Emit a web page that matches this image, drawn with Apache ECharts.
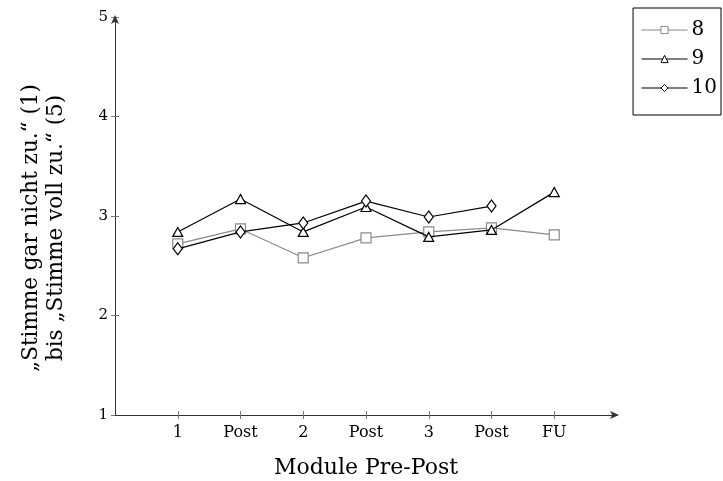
<!DOCTYPE html>
<html>
<head>
<meta charset="utf-8">
<script src="https://cdn.jsdelivr.net/npm/echarts@6/dist/echarts.min.js"></script>
<style>
  html, body { margin: 0; padding: 0; background: #fff; }
  #chart { width: 723px; height: 481px; }
</style>
</head>
<body>
<div id="chart"></div>
<script>
// Module positions along the x axis and their labels
const positions = [1, 2, 3, 4, 5, 6, 7];
const tickLabels = ['1', 'Post', '2', 'Post', '3', 'Post', 'FU'];

// Mean ratings per group (null = no measurement)
const seriesNames = ['8', '9', '10'];
const values8  = [2.72, 2.87, 2.58, 2.78, 2.84, 2.88, 2.81];
const values9  = [2.84, 3.17, 2.84, 3.09, 2.79, 2.86, 3.24];
const values10 = [2.67, 2.84, 2.93, 3.15, 2.99, 3.10, null];

const yTicks = [1, 2, 3, 4, 5];

const FONT = 'DejaVu Serif';

function pairs(vals) {
  return positions.map((p, i) => [p, vals[i]]);
}

const chart = echarts.init(document.getElementById('chart'));

const xBase = {
  type: 'value', min: 0, max: 8, interval: 1,
  gridIndex: 0, position: 'bottom',
  splitLine: { show: false }
};
const yBase = {
  type: 'value', min: 1, max: 5, interval: 1,
  gridIndex: 0, position: 'left',
  splitLine: { show: false }
};

chart.setOption({
  animation: false,
  backgroundColor: '#fff',
  textStyle: { fontFamily: FONT },
  grid: { left: 115, top: 17, width: 502, height: 398, containLabel: false, outerBoundsMode: 'none' },
  legend: {
    orient: 'vertical',
    right: 2, top: 8,
    padding: [12, 4, 17, 8],
    itemGap: 9,
    itemWidth: 46, itemHeight: 9,
    borderColor: '#000', borderWidth: 1, borderRadius: 0,
    backgroundColor: '#fff',
    lineStyle: { width: 1 },
    itemStyle: { borderWidth: 1 },
    textStyle: { fontFamily: FONT, fontSize: 20, lineHeight: 20, color: '#000', padding: [0, 0, 0, -1] },
    data: seriesNames
  },
  xAxis: [
    Object.assign({}, xBase, {
      name: 'Module Pre-Post',
      nameLocation: 'middle', nameGap: 42,
      nameTextStyle: { fontFamily: FONT, fontSize: 22, color: '#000' },
      axisLine: { show: true, lineStyle: { color: '#333', width: 1 }, symbol: ['none', 'arrow'], symbolSize: [6, 9], symbolOffset: [0, 2] },
      axisTick: { show: true, length: 4, lineStyle: { color: '#777' }, customValues: positions },
      axisLabel: {
        show: true, margin: 10, fontFamily: FONT, fontSize: 16, color: '#000',
        customValues: positions,
        formatter: v => tickLabels[positions.indexOf(v)] || ''
      }
    }),
    Object.assign({}, xBase, {
      axisLine: { show: false },
      axisTick: { show: true, inside: true, length: 4, lineStyle: { color: '#777' }, customValues: positions },
      axisLabel: { show: false }
    })
  ],
  yAxis: [
    Object.assign({}, yBase, {
      name: '„Stimme gar nicht zu.“ (1)\nbis „Stimme voll zu.“ (5)',
      nameLocation: 'middle', nameGap: 46, nameRotate: 90,
      nameTextStyle: { fontFamily: FONT, fontSize: 21.5, color: '#000', lineHeight: 25, padding: [0, 24, 0, 0] },
      axisLine: { show: true, lineStyle: { color: '#333', width: 1 }, symbol: ['none', 'arrow'], symbolSize: [6, 9], symbolOffset: [0, 2] },
      axisTick: { show: true, length: 4, lineStyle: { color: '#777' }, customValues: yTicks },
      axisLabel: { show: true, margin: 7, fontFamily: FONT, fontSize: 15, color: '#000', customValues: yTicks }
    }),
    Object.assign({}, yBase, {
      axisLine: { show: false },
      axisTick: { show: true, inside: true, length: 4, lineStyle: { color: '#777' }, customValues: [2, 3, 4, 5] },
      axisLabel: { show: false }
    })
  ],
  series: [
    {
      name: '8', type: 'line', data: pairs(values8),
      symbol: 'rect', symbolSize: 10,
      lineStyle: { color: '#8a8a8a', width: 1.2 },
      itemStyle: { color: '#fff', borderColor: '#8a8a8a', borderWidth: 1.2 },
      color: '#8a8a8a', z: 2
    },
    {
      name: '9', type: 'line', data: pairs(values9),
      symbol: 'triangle', symbolSize: [10, 9],
      lineStyle: { color: '#000', width: 1.2 },
      itemStyle: { color: '#fff', borderColor: '#000', borderWidth: 1.2 },
      color: '#000', z: 3
    },
    {
      name: '10', type: 'line', data: pairs(values10),
      symbol: 'diamond', symbolSize: [9, 12],
      connectNulls: false,
      lineStyle: { color: '#000', width: 1.2 },
      itemStyle: { color: '#fff', borderColor: '#000', borderWidth: 1.2 },
      color: '#000', z: 4
    }
  ]
});
</script>
</body>
</html>
